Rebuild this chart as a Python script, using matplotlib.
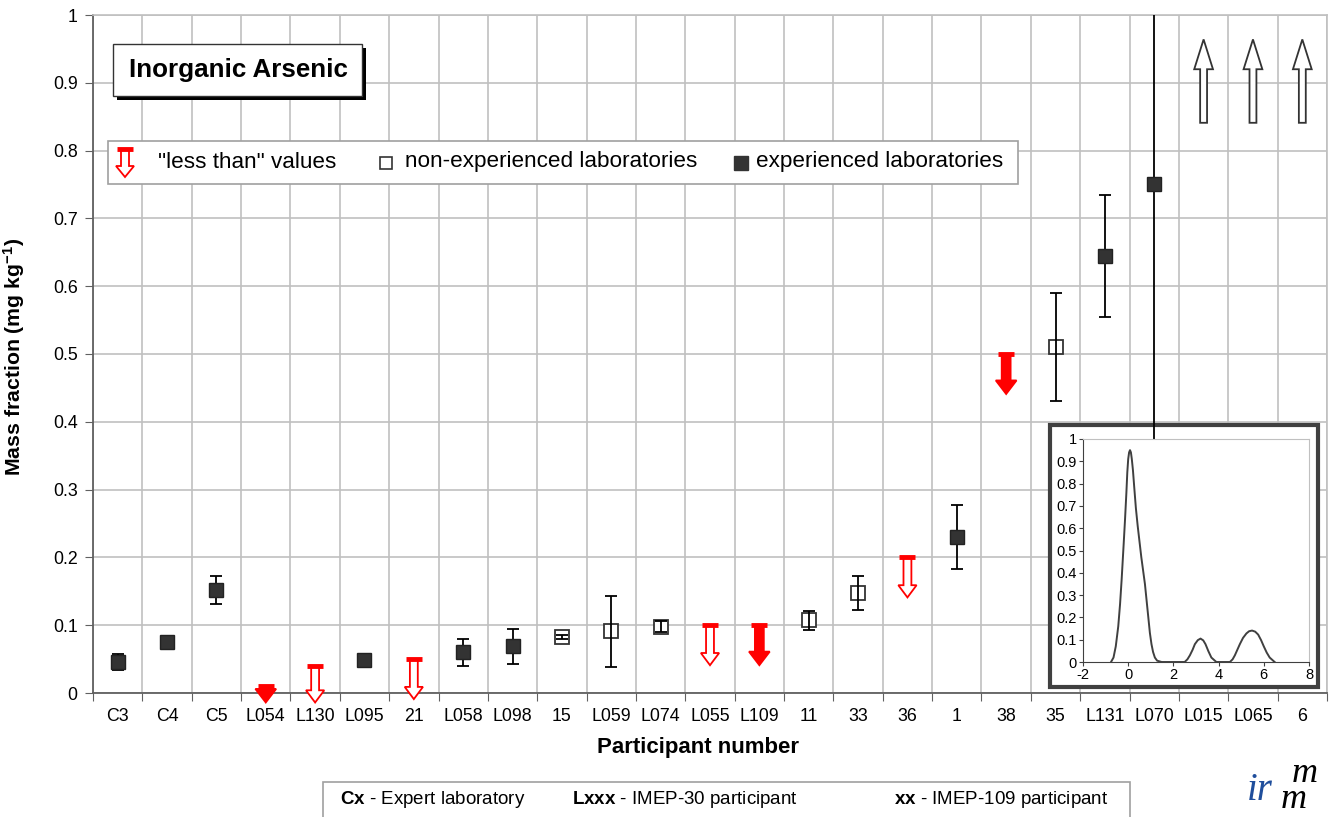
import numpy as np
import matplotlib.pyplot as plt
from matplotlib.patches import FancyArrow, Rectangle
from matplotlib.lines import Line2D

plt.rcParams['font.family'] = ['Liberation Sans', 'DejaVu Sans']
plt.rcParams['mathtext.default'] = 'regular'
plt.rcParams['mathtext.fontset'] = 'custom'
plt.rcParams['mathtext.rm'] = 'Liberation Sans'
plt.rcParams['mathtext.bf'] = 'Liberation Sans:bold'
plt.rcParams['axes.unicode_minus'] = False

# ---- data ----
participants = ["C3", "C4", "C5", "L054", "L130", "L095", "21", "L058", "L098", "15",
                "L059", "L074", "L055", "L109", "11", "33", "36", "1", "38", "35",
                "L131", "L070", "L015", "L065", "6"]
values = [0.046, 0.075, 0.152, 0.01, 0.04, 0.049, 0.05, 0.06, 0.069, 0.082,
          0.091, 0.098, 0.10, 0.10, 0.107, 0.147, 0.20, 0.23, 0.50, 0.51,
          0.645, 0.751, np.nan, np.nan, np.nan]
uncert = [0.012, 0.005, 0.02, 0, 0, 0.004, 0, 0.02, 0.026, 0.003,
          0.052, 0.0085, 0, 0, 0.0135, 0.025, 0, 0.047, 0, 0.08,
          0.09, 0.40, 0, 0, 0]
# exp = experienced, non = non-experienced, lt_* = "less than", above = off scale
kind = ["exp", "exp", "exp", "lt_exp", "lt_non", "exp", "lt_non", "exp", "exp", "non",
        "non", "non", "lt_non", "lt_exp", "non", "non", "lt_non", "exp", "lt_exp", "non",
        "exp", "exp", "above", "above", "above"]

# kernel density shown in the inset
kd_x = [-0.76, -0.65, -0.55, -0.44, -0.36, -0.29, -0.2, -0.14, -0.08, -0.04, 0.0, 0.04,
        0.08, 0.12, 0.16, 0.21, 0.27, 0.34, 0.42, 0.5, 0.58, 0.66, 0.74, 0.82, 0.89,
        0.96, 1.03, 1.1, 1.18, 1.28, 1.48, 2.5, 2.62, 2.73, 2.85, 2.95, 3.08, 3.2, 3.32,
        3.42, 3.55, 3.68, 3.9, 4.5, 4.62, 4.72, 4.83, 4.94, 5.08, 5.23, 5.35, 5.48, 5.62,
        5.75, 5.88, 6.0, 6.13, 6.26, 6.48]
kd_y = [0.0, 0.02, 0.07, 0.16, 0.26, 0.37, 0.53, 0.64, 0.76, 0.85, 0.91, 0.94,
        0.95, 0.94, 0.91, 0.86, 0.78, 0.69, 0.61, 0.54, 0.47, 0.41, 0.35, 0.27, 0.2,
        0.13, 0.08, 0.045, 0.02, 0.006, 0.0, 0.0, 0.012, 0.03, 0.055, 0.08, 0.098, 0.105,
        0.097, 0.08, 0.048, 0.02, 0.0, 0.0, 0.012, 0.03, 0.055, 0.08, 0.108, 0.128, 0.138,
        0.141, 0.136, 0.123, 0.098, 0.07, 0.042, 0.02, 0.0]

W, H = 1335, 817
RED = '#ff0000'
DARK = '#333333'


def F(px, py):
    return px / W, 1 - py / H


fig = plt.figure(figsize=(W / 100, H / 100), dpi=100)
ax = fig.add_axes([93 / W, 1 - 693 / H, 1234 / W, 678 / H])

x = np.arange(len(participants))
vals = np.array(values)
unc = np.array(uncert)
kinds = np.array(kind)

exp = kinds == "exp"
non = kinds == "non"
ax.plot(x[exp], vals[exp], 's', ms=10.5, mfc=DARK, mec='#222222', zorder=5)
ax.plot(x[non], vals[non], 's', ms=10, mfc='white', mec=DARK, mew=1.3, zorder=3)
pts = exp | non
ax.errorbar(x[pts], vals[pts], yerr=unc[pts], fmt='none', ecolor='black',
            elinewidth=1.3, capsize=4.3, capthick=1.3, zorder=4)

# "less than" values: red downward arrows with a cap on top
for i in np.where(np.char.startswith(kinds, "lt"))[0]:
    filled = kinds[i] == "lt_exp"
    length = min(0.059, vals[i] + 0.014)
    ax.add_patch(FancyArrow(x[i], vals[i], 0, -length, width=0.18 if filled else 0.16,
                            head_width=0.42 if filled else 0.37,
                            head_length=0.02 if filled else 0.018,
                            length_includes_head=True,
                            fc=RED if filled else 'white', ec=RED, lw=1.3,
                            zorder=3, clip_on=False))
    ax.plot([x[i]], [vals[i]], marker='_', ms=11.5, mew=3.5, color=RED, zorder=3.2)

# off-scale values: hollow upward arrows
for i in np.where(kinds == "above")[0]:
    ax.add_patch(FancyArrow(x[i], 0.841, 0, 0.123, width=0.14, head_width=0.38,
                            head_length=0.044, length_includes_head=True,
                            fc='white', ec=DARK, lw=1.3, zorder=3))

ax.set_xlim(-0.5, len(participants) - 0.5)
ax.set_ylim(0, 1)
ax.set_xticks(np.arange(-0.5, len(participants), 1))
ax.set_xticklabels([])
ax.set_xticks(x, minor=True)
ax.set_xticklabels(participants, minor=True)
ax.tick_params(axis='x', which='major', direction='out', length=6, color='#606060')
ax.tick_params(axis='x', which='minor', length=0, pad=11, labelsize=12.8)
yt = np.round(np.arange(0, 1.01, 0.1), 1)
ax.set_yticks(yt)
ax.set_yticklabels(['0' if v == 0 else ('1' if v == 1 else f'{v:.1f}') for v in yt])
ax.tick_params(axis='y', direction='out', length=6, color='#606060', labelsize=12.8, pad=5)
ax.grid(True, which='major', color='#c0c0c0', lw=1.2)
ax.set_axisbelow(True)
for s in ['left', 'bottom']:
    ax.spines[s].set_color('#606060')
    ax.spines[s].set_linewidth(1.3)
for s in ['top', 'right']:
    ax.spines[s].set_color('#c0c0c0')
    ax.spines[s].set_linewidth(1.2)

ax.set_ylabel(r'Mass fraction (mg kg$^{-1}$)', fontsize=15.3, fontweight='bold')
ax.yaxis.set_label_coords(-0.0535, 0.496)
ax.set_xlabel('Participant number', fontsize=16, fontweight='bold')
ax.xaxis.label.set_va('center')
ax.xaxis.set_label_coords(0.49, -0.081)

# outer frame of the inset (drawn under the L070 error bar)
ax.add_patch(Rectangle(F(1050, 687), 268 / W, 262 / H, transform=fig.transFigure,
                       fc='white', ec='#404040', lw=3, zorder=2.5, clip_on=False))

# inset with the kernel density
axi = fig.add_axes([1083 / W, 1 - 662 / H, 226 / W, 223 / H], zorder=5)
axi.plot(kd_x, kd_y, color='#404040', lw=1.4)
axi.set_xlim(-2, 8)
axi.set_ylim(0, 1)
axi.set_xticks(np.arange(-2, 9, 2))
iy = np.round(np.arange(0, 1.01, 0.1), 1)
axi.set_yticks(iy)
axi.set_yticklabels(['0' if v == 0 else ('1' if v == 1 else f'{v:.1f}') for v in iy])
axi.tick_params(direction='out', length=3, labelsize=10.5, pad=1.5, color='#404040')
for s in ['left', 'bottom']:
    axi.spines[s].set_color('#404040')
for s in ['top', 'right']:
    axi.spines[s].set_color('#c0c0c0')

# title box with shadow
fig.patches.append(Rectangle(F(117, 100), 249 / W, 52 / H, transform=fig.transFigure,
                             fc='black', ec='none', zorder=1))
fig.patches.append(Rectangle(F(113, 96), 249 / W, 52 / H, transform=fig.transFigure,
                             fc='white', ec='#333333', lw=1, zorder=1.1))
fig.text(*F(238, 70), 'Inorganic Arsenic', fontsize=18.7, fontweight='bold',
         ha='center', va='center')

# legend
fig.patches.append(Rectangle(F(108, 184), 910 / W, 43 / H, transform=fig.transFigure,
                             fc='white', ec='#a0a0a0', lw=1.2, zorder=1))
fig.patches.append(FancyArrow(*F(125, 149), 0, -28 / H, width=8 / W, head_width=18 / W,
                              head_length=11 / H, length_includes_head=True,
                              transform=fig.transFigure, fc='white', ec=RED, lw=1.3, zorder=2))
fig.add_artist(Line2D([125 / W], [1 - 149 / H], marker='_', ms=11, mew=3.5, color=RED,
                      transform=fig.transFigure, zorder=2.1))
fig.add_artist(Line2D([386 / W], [1 - 163 / H], marker='s', ms=9, mfc='white', mec=DARK,
                      mew=1.2, transform=fig.transFigure, zorder=2))
fig.add_artist(Line2D([741 / W], [1 - 163 / H], marker='s', ms=10, mfc=DARK, mec=DARK,
                      transform=fig.transFigure, zorder=2))
fig.text(*F(158, 162), '"less than" values', fontsize=16.2, va='center')
fig.text(*F(405, 162), 'non-experienced laboratories', fontsize=16.2, va='center')
fig.text(*F(756, 162), 'experienced laboratories', fontsize=16.2, va='center')

# bottom key
fig.patches.append(Rectangle(F(323, 830), 807 / W, 48 / H, transform=fig.transFigure,
                             fc='white', ec='#a0a0a0', lw=1.2, zorder=1))
fig.text(*F(340, 800), r'$\mathbf{Cx}$ - Expert laboratory', fontsize=13.5, va='center')
fig.text(*F(572, 800), r'$\mathbf{Lxxx}$ - IMEP-30 participant', fontsize=13.5, va='center')
fig.text(*F(894, 800), r'$\mathbf{xx}$ - IMEP-109 participant', fontsize=13.5, va='center')

# logo
fig.text(*F(1247, 790), 'ir', fontsize=28, color='#1f4e9c', family='Liberation Serif',
         style='italic', va='center')
fig.text(*F(1292, 773), 'm', fontsize=26, color='black', family='Liberation Serif',
         style='italic', va='center')
fig.text(*F(1281, 799), 'm', fontsize=26, color='black', family='Liberation Serif',
         style='italic', va='center')

fig.savefig('out.png', dpi=100)
